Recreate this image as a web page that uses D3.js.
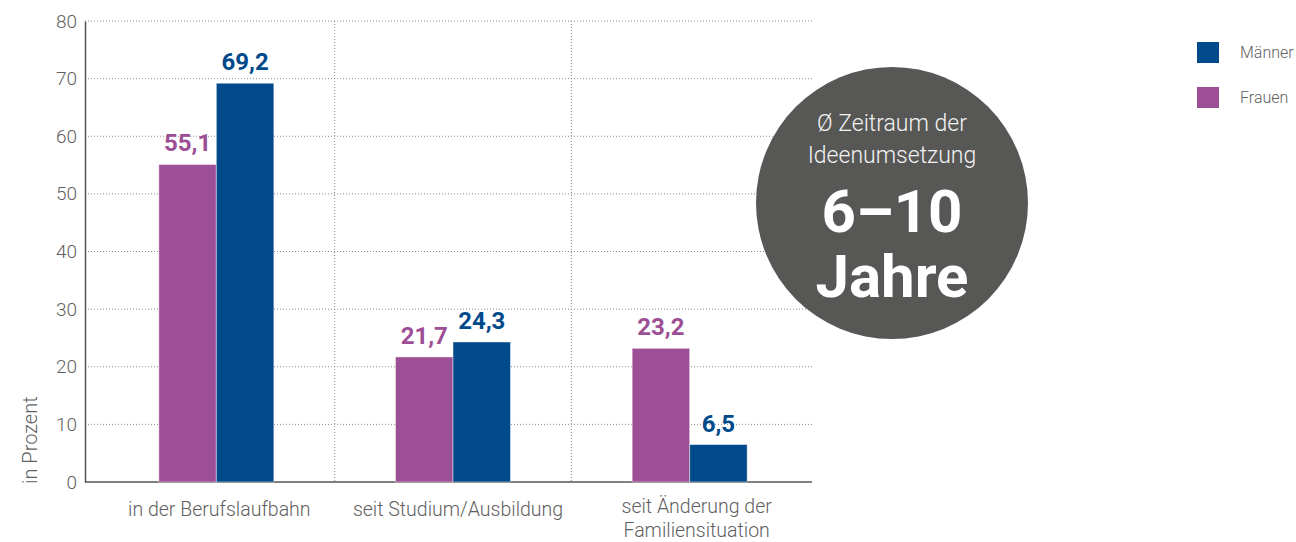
<!DOCTYPE html>
<html>
<head>
<meta charset="utf-8">
<script src="https://cdn.jsdelivr.net/npm/d3@7"></script>
<style>
  html, body { margin: 0; padding: 0; background: #fff; }
  svg { display: block; font-family: Roboto, "Open Sans", sans-serif; }
</style>
</head>
<body>
<svg id="chart" width="1296" height="542"></svg>
<script>
const categories = [["in der Berufslaufbahn"], ["seit Studium/Ausbildung"], ["seit Änderung der", "Familiensituation"]];
const seriesNames = ["Frauen", "Männer"];
const frauen = [55.1, 21.7, 23.2];
const maenner = [69.2, 24.3, 6.5];
const yTicks = [0, 10, 20, 30, 40, 50, 60, 70, 80];
const legendOrder = ["Männer", "Frauen"];
const circleLines = ["Ø Zeitraum der", "Ideenumsetzung"];
const circleBig = ["6–10", "Jahre"];

(function () {
const colors = { "Frauen": "#9c4f95", "Männer": "#004a8b" };
const textGray = "#5f5f5f";
const svg = d3.select("#chart");

const mLeft = 85, mRight = 812, mTop = 21, mBottom = 482;
const y = d3.scaleLinear().domain([0, 80]).range([mBottom, mTop]);
const catKeys = categories.map((c, i) => i);
const x0 = d3.scaleBand().domain(catKeys).range([98, 808]).paddingInner(0).paddingOuter(0);
const x1 = d3.scaleBand().domain(seriesNames).range([0, x0.bandwidth()]).paddingOuter(1.058).paddingInner(0);

// horizontal dotted gridlines
svg.append("g").selectAll("line").data(yTicks.filter(t => t > 0)).join("line")
  .attr("x1", mLeft).attr("x2", mRight)
  .attr("y1", d => y(d)).attr("y2", d => y(d))
  .attr("stroke", "#8a8a8a").attr("stroke-width", 1).attr("stroke-dasharray", "1,2");

// vertical dotted dividers between categories
svg.append("g").selectAll("line").data(catKeys.slice(1)).join("line")
  .attr("x1", d => x0(d)).attr("x2", d => x0(d))
  .attr("y1", mTop).attr("y2", mBottom)
  .attr("stroke", "#8a8a8a").attr("stroke-width", 1).attr("stroke-dasharray", "1,2");

// y axis
const yAxis = svg.append("g").attr("transform", `translate(${mLeft},0)`)
  .call(d3.axisLeft(y).tickValues(yTicks).tickSize(0).tickPadding(8).tickFormat(d3.format("d")));
yAxis.select(".domain").attr("stroke", "#555").attr("stroke-width", 1.5);
yAxis.selectAll("text").attr("font-size", 19).attr("font-weight", 300).attr("fill", textGray)
  .attr("font-family", "Roboto, sans-serif");

// x axis line
svg.append("line").attr("x1", mLeft).attr("x2", mRight).attr("y1", mBottom).attr("y2", mBottom)
  .attr("stroke", "#555").attr("stroke-width", 1.5);

// bars
const data = catKeys.map(i => ({ i, values: [{ key: "Frauen", v: frauen[i] }, { key: "Männer", v: maenner[i] }] }));
const groups = svg.append("g").selectAll("g").data(data).join("g")
  .attr("transform", d => `translate(${x0(d.i)},0)`);
groups.selectAll("rect").data(d => d.values).join("rect")
  .attr("x", d => x1(d.key)).attr("width", x1.bandwidth())
  .attr("y", d => y(d.v)).attr("height", d => y(0) - y(d.v))
  .attr("fill", d => colors[d.key])
  .attr("stroke", "rgba(255,255,255,0.45)").attr("stroke-width", 1);
groups.selectAll("text.val").data(d => d.values).join("text")
  .attr("class", "val")
  .attr("x", d => x1(d.key) + x1.bandwidth() / 2)
  .attr("y", d => y(d.v) - 13)
  .attr("text-anchor", "middle")
  .attr("font-size", 24).attr("font-weight", 700)
  .attr("fill", d => colors[d.key])
  .text(d => d3.format(".1f")(d.v).replace(".", ","));

// category labels
const catG = svg.append("g").selectAll("text").data(catKeys).join("text")
  .attr("text-anchor", "middle")
  .attr("font-size", 19.5).attr("font-weight", 300).attr("fill", textGray);
catG.each(function (d) {
  const lines = categories[d];
  const el = d3.select(this);
  lines.forEach((ln, k) => {
    el.append("tspan").attr("x", x0(d) + x0.bandwidth() / 2 + 3 + d * 2)
      .attr("y", (lines.length > 1 ? 513 : 516) + k * 24).text(ln);
  });
});

// y label
svg.append("text").attr("transform", "translate(37,484) rotate(-90)")
  .attr("font-size", 20).attr("font-weight", 300).attr("fill", textGray)
  .text("in Prozent");

// circle
const cx = 892, cy = 203, r = 136;
svg.append("circle").attr("cx", cx).attr("cy", cy).attr("r", r).attr("fill", "#575756");
svg.append("g").selectAll("text").data(circleLines).join("text")
  .attr("x", cx).attr("y", (d, i) => 131 + i * 32)
  .attr("text-anchor", "middle").attr("font-size", 23).attr("font-weight", 300)
  .attr("fill", "#f2f2f2").text(d => d);
svg.append("g").selectAll("text").data(circleBig).join("text")
  .attr("x", cx).attr("y", (d, i) => 232 + i * 65)
  .attr("text-anchor", "middle").attr("font-size", 60).attr("font-weight", 700)
  .attr("fill", "#ffffff").text(d => d);

// legend
const lg = svg.append("g").selectAll("g").data(legendOrder).join("g")
  .attr("transform", (d, i) => `translate(1197,${42 + i * 45})`);
lg.append("rect").attr("width", 22).attr("height", 21).attr("fill", d => colors[d]);
lg.append("text").attr("x", 43).attr("y", 16).attr("font-size", 16).attr("font-weight", 300)
  .attr("fill", textGray).text(d => d);
})();
</script>
</body>
</html>
